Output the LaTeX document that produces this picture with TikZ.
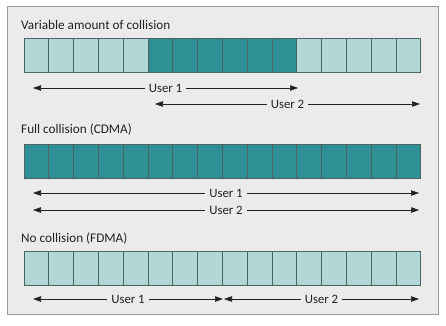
\documentclass[tikz,border=0pt]{standalone}
\usepackage{fontspec}
\setmainfont{Carlito}
\usetikzlibrary{arrows.meta}
\definecolor{bgc}{HTML}{EBEBEB}
\definecolor{framec}{HTML}{9A9A9A}
\definecolor{lightc}{HTML}{B1D8D6}
\definecolor{darkc}{HTML}{2E9095}
\definecolor{cellline}{HTML}{4A6464}
\definecolor{txtc}{HTML}{222222}
\tikzset{
  cell/.style={draw=cellline, line width=1pt, minimum width=24.8pt, minimum height=34pt, inner sep=0pt},
  lcell/.style={cell, fill=lightc},
  dcell/.style={cell, fill=darkc},
  darr/.style={draw=txtc, line width=0.6pt, {Triangle[length=8pt,width=5.5pt]}-{Triangle[length=8pt,width=5.5pt]}},
  lbl/.style={fill=bgc, text=txtc, inner sep=4pt, font=\fontsize{12.8}{14}\selectfont},
  title/.style={text=txtc, anchor=west, inner sep=0pt, font=\fontsize{13.2}{14}\selectfont},
}
\begin{document}
\begin{tikzpicture}[x=1pt,y=-1pt]
\useasboundingbox (0,0) rectangle (446,325);
\draw[framec, fill=bgc, line width=1pt] (7,6) rectangle (438,314);
% row 1
\node[title] (t1) at (21,25) {Variable amount of collision};
\foreach \i in {0,...,15}{
  \pgfmathtruncatemacro{\d}{(\i>4)&&(\i<11)}
  \ifnum\d=1
    \node[dcell] (a\i) at ({24+24.8*\i+12.4},55) {};
  \else
    \node[lcell] (a\i) at ({24+24.8*\i+12.4},55) {};
  \fi
}
\coordinate (r1a) at (33,88);
\coordinate (r1b) at (298,88);
\coordinate (r1c) at (155,104);
\coordinate (r1d) at (420,104);
\draw[darr] (r1a) -- (r1b) node[midway, lbl] (u11) {User 1};
\draw[darr] (r1c) -- (r1d) node[midway, lbl] (u12) {User 2};
% row 2
\node[title] (t2) at (21,130) {Full collision (CDMA)};
\foreach \i in {0,...,15}{
  \node[dcell] (b\i) at ({24+24.8*\i+12.4},161.5) {};
}
\coordinate (r2a) at (33,193);
\coordinate (r2b) at (419,193);
\coordinate (r2c) at (33,210);
\coordinate (r2d) at (419,210);
\draw[darr] (r2a) -- (r2b) node[midway, lbl] (u21) {User 1};
\draw[darr] (r2c) -- (r2d) node[midway, lbl] (u22) {User 2};
% row 3
\node[title] (t3) at (21,239) {No collision (FDMA)};
\foreach \i in {0,...,15}{
  \node[lcell] (c\i) at ({24+24.8*\i+12.4},268.5) {};
}
\coordinate (r3a) at (33,299);
\coordinate (r3b) at (223,299);
\coordinate (r3c) at (224,299);
\coordinate (r3d) at (419,299);
\draw[darr] (r3a) -- (r3b) node[midway, lbl] (u31) {User 1};
\draw[darr] (r3c) -- (r3d) node[midway, lbl] (u32) {User 2};
\end{tikzpicture}
\end{document}
